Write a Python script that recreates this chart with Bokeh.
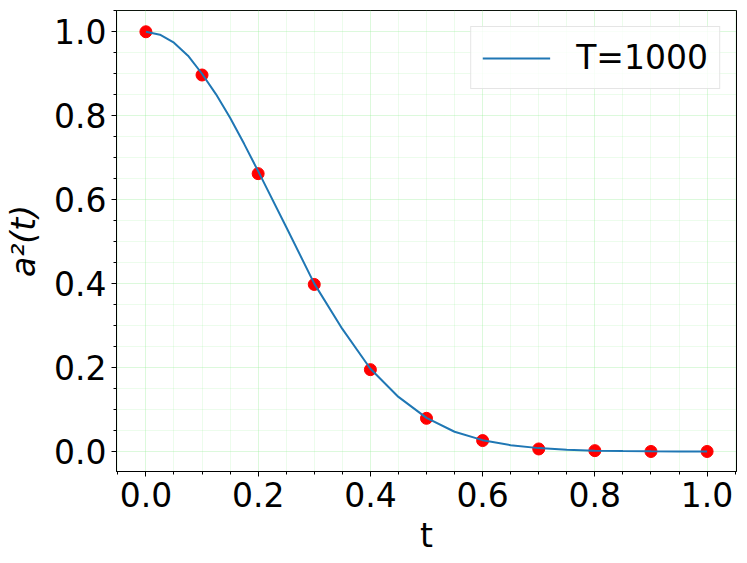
from bokeh.plotting import figure
from bokeh.models import SingleIntervalTicker, PrintfTickFormatter, Range1d, Legend, LegendItem
from bokeh.embed import file_html
from bokeh.resources import INLINE

# curve a^2(t)
curve_t = [0.0, 0.025, 0.05, 0.075, 0.10, 0.125, 0.15, 0.175, 0.20, 0.25, 0.30, 0.35, 0.40, 0.45,
           0.50, 0.55, 0.60, 0.65, 0.70, 0.75, 0.80, 0.85, 0.90, 0.95, 1.00]
curve_a2 = [1.000, 0.993, 0.974, 0.943, 0.900, 0.851, 0.795, 0.733, 0.668, 0.535, 0.400, 0.292, 0.197,
            0.130, 0.080, 0.047, 0.027, 0.015, 0.008, 0.004, 0.002, 0.001, 0.0005, 0.0002, 0.0]

# sampled points
pts_t = [0.0, 0.1, 0.2, 0.3, 0.4, 0.5, 0.6, 0.7, 0.8, 0.9, 1.0]
pts_a2 = [1.000, 0.897, 0.662, 0.398, 0.195, 0.079, 0.026, 0.006, 0.002, 0.0, 0.0]

legend_label = "T=1000"
x_label = "t"
y_label = "a²(t)"

FONT = "DejaVu Sans"
FS = "33px"

p = figure(width=745, height=560, output_backend="svg", toolbar_location=None,
           x_range=Range1d(-0.0524, 1.0524), y_range=Range1d(-0.0477, 1.0507))
p.min_border_left = 116
p.min_border_right = 9
p.min_border_top = 10
p.min_border_bottom = 89
p.background_fill_color = "white"
p.border_fill_color = "white"
p.outline_line_color = "black"
p.outline_line_width = 1
p.outline_line_alpha = 1

for ax in (p.xaxis[0], p.yaxis[0]):
    ax.ticker = SingleIntervalTicker(interval=0.2, num_minor_ticks=4)
    ax.formatter = PrintfTickFormatter(format="%.1f")
    ax.major_label_text_font = FONT
    ax.major_label_text_font_size = FS
    ax.major_label_text_color = "black"
    ax.axis_label_text_font = FONT
    ax.axis_label_text_font_size = FS
    ax.axis_label_text_color = "black"
    ax.axis_label_text_font_style = "normal"
    ax.major_tick_out = 5
    ax.major_tick_in = 0
    ax.minor_tick_out = 3
    ax.minor_tick_in = 0
    ax.axis_line_color = "black"
    ax.major_tick_line_color = "black"
    ax.minor_tick_line_color = "black"
    ax.major_label_standoff = 5

p.xaxis.axis_label = x_label
p.yaxis.axis_label = y_label
p.yaxis.axis_label_text_font_style = "italic"
p.xaxis.axis_label_standoff = 6
p.yaxis.axis_label_standoff = 8

for g in (p.xgrid[0], p.ygrid[0]):
    g.ticker = SingleIntervalTicker(interval=0.2, num_minor_ticks=4)
    g.grid_line_color = "#90ee90"
    g.grid_line_alpha = 0.35
    g.grid_line_dash = "1 1"
    g.grid_line_width = 1
    g.minor_grid_line_color = "#90ee90"
    g.minor_grid_line_alpha = 0.35
    g.minor_grid_line_dash = "1 1"
    g.minor_grid_line_width = 1

p.scatter(pts_t, pts_a2, size=12, color="red", line_color="red")
ln = p.line(curve_t, curve_a2, line_color="#1f77b4", line_width=2)

legend = Legend(items=[LegendItem(label=legend_label, renderers=[ln])], location="top_right")
legend.label_text_font = FONT
legend.label_text_font_size = FS
legend.label_text_color = "black"
legend.glyph_width = 68
legend.glyph_height = 36
legend.label_height = 36
legend.label_standoff = 26
legend.padding = 11
legend.margin = 16
legend.border_line_color = "#cccccc"
legend.border_line_width = 1
legend.background_fill_alpha = 0.8
p.add_layout(legend)

open("out.html", "w").write(file_html(p, INLINE))
